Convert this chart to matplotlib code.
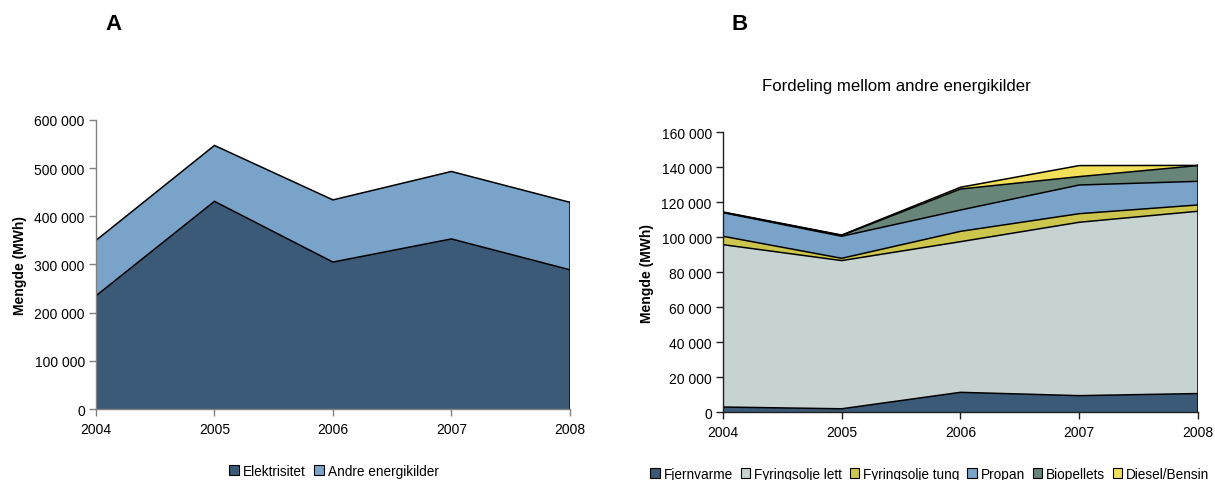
import matplotlib
matplotlib.use("Agg")
import matplotlib.pyplot as plt
from matplotlib.patches import Patch
import numpy as np

plt.rcParams['font.family'] = ['Liberation Sans', 'DejaVu Sans']

years = ['2004', '2005', '2006', '2007', '2008']

# Panel A: total energy use (MWh)
elektrisitet = [235000, 431000, 305000, 353000, 289000]
andre_energikilder = [115000, 116000, 129000, 140000, 140000]

# Panel B: split of the other energy sources (MWh)
fjernvarme = [3000, 2000, 11400, 9500, 10700]
fyringsolje_lett = [92800, 84700, 86100, 99100, 104200]
fyringsolje_tung = [4800, 1300, 5900, 4900, 3600]
propan = [13500, 12600, 12200, 16400, 13500]
biopellets = [200, 500, 12000, 4800, 9000]
diesel_bensin = [200, 200, 1000, 6300, 100]

labels_a = ['Elektrisitet', 'Andre energikilder']
colors_a = ['#3a5a78', '#7aa3c9']
labels_b = ['Fjernvarme', 'Fyringsolje lett', 'Fyringsolje tung',
            'Propan', 'Biopellets', 'Diesel/Bensin']
colors_b = ['#3a5a78', '#c6d3d0', '#cdc64e', '#7aa3c9', '#678679', '#f2df5a']

fig = plt.figure(figsize=(12.15, 4.81), dpi=100)
ax_a = fig.add_axes([0.079, 0.1476, 0.390, 0.601])
ax_b = fig.add_axes([0.595, 0.1408, 0.391, 0.582])


def stacked(ax, series, colors, ymax, step, spine_color):
    x = np.arange(len(years))
    data = np.array(series, dtype=float)
    tops = np.cumsum(data, axis=0)
    bottoms = np.vstack([np.zeros(len(years)), tops[:-1]])
    for bot, top, col in zip(bottoms, tops, colors):
        ax.fill_between(x, bot, top, facecolor=col, edgecolor='none', zorder=2)
    for top in tops:
        ax.plot(x, top, color='black', lw=1.1, zorder=3, solid_joinstyle='miter')
    ax.plot([x[-1], x[-1]], [0, tops[-1][-1]], color='black', lw=1.1, zorder=3)
    ax.set_xlim(0, len(years) - 1)
    ax.set_ylim(0, ymax)
    ax.set_xticks(x)
    ax.set_xticklabels(years)
    ticks = np.arange(0, ymax + 1, step)
    ax.set_yticks(ticks)
    ax.set_yticklabels([f"{int(t):,}".replace(',', ' ') for t in ticks])
    for side in ('top', 'right'):
        ax.spines[side].set_visible(False)
    for side in ('left', 'bottom'):
        ax.spines[side].set_color(spine_color)
        ax.spines[side].set_linewidth(1.0)
        ax.spines[side].set_zorder(4)
    ax.tick_params(axis='both', direction='out', length=5, width=1,
                   color=spine_color, labelsize=10, pad=3)
    ax.tick_params(axis='x', pad=4)
    ax.set_ylabel('Mengde (MWh)', fontsize=10, fontweight='bold', labelpad=5)


stacked(ax_a, [elektrisitet, andre_energikilder], colors_a, 600000, 100000, '#808080')
stacked(ax_b, [fjernvarme, fyringsolje_lett, fyringsolje_tung, propan,
               biopellets, diesel_bensin], colors_b, 160000, 20000, '#202020')

fig.text(113 / 1215, 1 - 25 / 481, 'A', fontsize=16, fontweight='bold',
         ha='center', va='center')
fig.text(740 / 1215, 1 - 25 / 481, 'B', fontsize=16, fontweight='bold',
         ha='center', va='center')
fig.text(896 / 1215, 1 - 87 / 481, 'Fordeling mellom andre energikilder',
         fontsize=12.1, ha='center', va='center')

handles_a = [Patch(facecolor=c, edgecolor='black', linewidth=0.8) for c in colors_a]
fig.legend(handles_a, labels_a, loc='center', bbox_to_anchor=(334 / 1215, 1 - 472 / 481),
           ncol=2, frameon=False, fontsize=9.8, handlelength=0.7, handleheight=0.7,
           handletextpad=0.3, columnspacing=0.6, borderaxespad=0)

handles_b = [Patch(facecolor=c, edgecolor='black', linewidth=0.8) for c in colors_b]
fig.legend(handles_b, labels_b, loc='center', bbox_to_anchor=(930 / 1215, 1 - 475 / 481),
           ncol=6, frameon=False, fontsize=9.8, handlelength=0.7, handleheight=0.7,
           handletextpad=0.3, columnspacing=0.55, borderaxespad=0)

fig.savefig('out.png', dpi=100, facecolor='white')
